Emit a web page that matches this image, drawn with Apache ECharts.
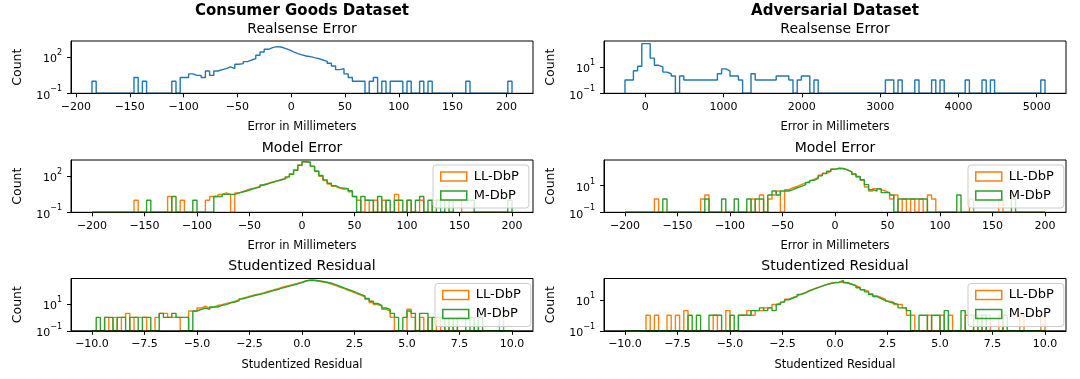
<!DOCTYPE html>
<html><head><meta charset="utf-8">
<script src="https://cdn.jsdelivr.net/npm/echarts@6/dist/echarts.min.js"></script>
<style>html,body{margin:0;padding:0;background:#fff}#chart{width:1080px;height:379px}</style>
</head><body><div id="chart"></div>
<script>
// ---------------- DATA ----------------
const consumerRealsenseBinStart = -185.1, consumerRealsenseBinWidth = 3.903;
const adversarialRealsenseBinStart = -259, adversarialRealsenseBinWidth = 53.65;
const modelErrorBinStart = -200, modelErrorBinWidth = 4;
const residualBinStart = -10, residualBinWidth = 0.2;

const mmTicks = [-200, -150, -100, -50, 0, 50, 100, 150, 200];
const adversarialRealsenseTicks = [0, 1000, 2000, 3000, 4000, 5000];
const residualTicks = [-10, -7.5, -5, -2.5, 0, 2.5, 5, 7.5, 10];

const consumerRealsenseCounts = [
 1,0,0,0,0,0,0,0,0,0, 2,0,1,0,0,0,0,0,0,1,
 0,2,2,4,3,3,2,7,3,7, 9,11,15,11,25,28,41,56,73,140,
 260,430,590,710,670,520,380,260,190,150, 120,107,88,73,56,44,30,18,9,11,
 4,2,1,1,1,0,1,2,0,1, 0,1,1,1,0,1,0,0,1,0,
 1,0,0,0,0,0,0,0,0,1, 0,0,0,0,0,0,0,0,0,1];
const adversarialRealsenseCounts = [
 1,1,5,11,560,560,45,13,10,4, 3,2,0,2,1,1,1,1,1,1,
 1,1,3,7,5,2,2,1,0,0, 3,1,1,1,1,1,2,2,2,1,
 0,1,2,2,0,1,0,0,0,0, 0,0,0,0,0,0,0,0,0,0,
 0,0,1,1,0,1,0,0,0,1, 0,0,0,1,0,1,0,0,0,0,
 0,1,0,0,0,1,0,1,0,0, 0,0,0,0,0,0,0,0,0,1];
const consumerModelLL = [
 0,0,0,0,0,0,0,0,0,0, 1,0,0,0,0,0,0,0,2,0,
 0,1,0,0,0,0,0,1,2,2, 3,4,3,0,4,5,7,9,11,14,
 20,25,32,40,50,62,90,150,320,800, 1450,1300,600,230,95,42,22,14,10,8,
 9,5,2,1,0,1,0,1,0,1, 0,0,3,0,0,1,0,0,1,0,
 0,1,1,1,1,1,1,1,0,0, 0,0,0,0,0,0,0,0,0,0];
const consumerModelM = [
 0,0,0,0,0,0,0,0,0,0, 0,0,0,1,0,0,0,0,0,2,
 0,0,0,0,1,0,0,0,0,2, 2,3,3,3,4,5,6,8,10,12,
 18,23,30,38,47,58,85,140,300,750, 1500,1350,650,260,110,48,25,16,11,10,
 9,6,2,0,2,1,1,0,2,0, 1,0,1,1,0,1,0,1,2,0,
 1,0,1,0,1,0,1,1,1,1, 1,0,0,0,0,0,0,0,0,1];
const adversarialModelLL = [
 0,0,0,0,0,0,0,1,0,0, 0,0,0,0,0,0,0,0,1,2,
 0,0,0,0,0,0,0,0,0,0, 1,0,2,0,1,2,4,0,5,7,
 9,12,16,22,30,40,60,85,120,175, 200,190,150,110,70,45,25,8,4,6,
 5,4,3,1,2,0,1,0,1,0, 1,0,2,1,0,0,0,0,0,0,
 0,0,1,0,0,0,0,0,0,1, 0,0,0,0,0,0,0,0,0,0];
const adversarialModelM = [
 0,0,0,0,0,0,0,0,0,1, 0,0,0,0,0,0,0,0,0,1,
 0,0,0,1,0,0,1,0,0,1, 0,1,1,0,2,4,2,4,4,5,
 7,9,12,17,25,35,55,80,120,170, 205,195,155,110,75,50,28,12,5,4,
 6,3,3,2,0,1,1,1,1,1, 1,1,0,0,0,0,0,0,0,2,
 0,0,0,0,0,0,0,0,0,0, 0,0,1,0,0,0,0,0,0,0];
const consumerResidualLL = [
 0,0,0,1,0,1,0,1,2,0, 1,1,1,0,0,1,2,2,1,1,
 1,0,0,3,3,5,7,5,6,8, 9,11,13,16,20,28,34,42,50,58,
 70,88,105,130,165,200,240,290,350,430, 540,590,570,500,440,380,310,240,180,140,
 105,80,60,45,33,22,13,9,7,4, 3,1,0,0,0,4,1,0,1,0,
 1,0,1,0,1,0,1,0,0,0, 0,1,0,0,0,0,0,1,0,0];
const consumerResidualM = [
 0,1,0,1,1,0,1,1,0,1, 1,0,1,1,0,0,2,1,1,2,
 1,1,1,0,3,4,5,4,6,6, 8,9,12,14,17,24,30,37,45,52,
 62,78,95,115,145,175,215,260,320,400, 520,600,590,540,480,420,350,280,210,160,
 120,95,70,52,40,26,16,11,8,5, 4,2,1,0,1,3,2,0,2,2,
 0,1,1,1,0,1,0,1,1,0, 1,0,1,0,0,0,0,0,0,0];
const adversarialResidualLL = [
 0,0,0,0,0,1,0,1,0,0, 1,0,1,0,2,0,0,0,0,0,
 0,1,0,0,2,0,0,1,1,2, 1,2,2,3,3,5,6,8,11,14,
 18,24,30,40,50,62,78,95,115,125, 130,140,120,100,80,62,45,34,25,18,
 14,11,8,7,5,5,3,1,1,0, 0,0,1,0,0,1,0,1,0,0,
 0,1,1,0,1,0,1,0,0,1, 0,0,0,0,1,0,0,0,0,1];
const adversarialResidualM = [
 0,0,0,0,0,0,0,0,0,0, 0,0,0,0,0,1,0,1,0,0,
 1,1,1,0,0,1,0,1,1,1, 2,2,3,2,3,2,5,7,10,13,
 16,22,28,37,48,60,76,95,112,128, 135,175,125,100,82,60,44,32,22,16,
 12,9,7,6,5,3,3,2,0,0, 1,1,0,1,1,0,2,0,0,0,
 2,0,0,1,0,1,0,0,0,0, 1,0,0,0,0,0,0,0,0,0];

// ---------------- CHART ----------------
const FONT = 'DejaVu Sans';
const BLUE = '#1f77b4', ORANGE = '#ff7f0e', GREEN = '#2ca02c';
const BASE = 0.1;

function stepData(counts, start, width) {
  const pts = [[start, BASE]];
  counts.forEach((c, i) => pts.push([start + i * width, c > 0 ? c : BASE]));
  pts.push([start + counts.length * width, BASE]);
  return pts;
}
const fmtMinus = v => (v < 0 ? '\u2212' + (-v) : String(v));
const fmtRes = v => (v < 0 ? '\u2212' : '') + Math.abs(v).toFixed(1);

const GW = 462, GH = 52.3;
const panels = [
  {left: 71, top: 41, xr: [-204.6, 224.7], xt: mmTicks, xf: fmtMinus, yMax: 2090, yt: [0.1, 100], xName: 'Error in Millimeters',
   series: [{name: 'Realsense', c: consumerRealsenseCounts, s: consumerRealsenseBinStart, w: consumerRealsenseBinWidth, color: BLUE}]},
  {left: 604, top: 41, xr: [-527.25, 5374.25], xt: adversarialRealsenseTicks, xf: fmtMinus, yMax: 890, yt: [0.1, 10], xName: 'Error in Millimeters',
   series: [{name: 'Realsense', c: adversarialRealsenseCounts, s: adversarialRealsenseBinStart, w: adversarialRealsenseBinWidth, color: BLUE}]},
  {left: 71, top: 160, xr: [-220, 220], xt: mmTicks, xf: fmtMinus, yMax: 2090, yt: [0.1, 100], xName: 'Error in Millimeters', legend: [433, 165],
   series: [{name: 'LL-DbP', c: consumerModelLL, s: modelErrorBinStart, w: modelErrorBinWidth, color: ORANGE},
            {name: 'M-DbP', c: consumerModelM, s: modelErrorBinStart, w: modelErrorBinWidth, color: GREEN}]},
  {left: 604, top: 160, xr: [-220, 220], xt: mmTicks, xf: fmtMinus, yMax: 850, yt: [0.1, 10], xName: 'Error in Millimeters', legend: [968, 165],
   series: [{name: 'LL-DbP', c: adversarialModelLL, s: modelErrorBinStart, w: modelErrorBinWidth, color: ORANGE},
            {name: 'M-DbP', c: adversarialModelM, s: modelErrorBinStart, w: modelErrorBinWidth, color: GREEN}]},
  {left: 71, top: 278.5, xr: [-11, 11], xt: residualTicks, xf: fmtRes, yMax: 795, yt: [0.1, 10], xName: 'Studentized Residual', legend: [435, 283.5],
   series: [{name: 'LL-DbP', c: consumerResidualLL, s: residualBinStart, w: residualBinWidth, color: ORANGE},
            {name: 'M-DbP', c: consumerResidualM, s: residualBinStart, w: residualBinWidth, color: GREEN}]},
  {left: 604, top: 278.5, xr: [-11, 11], xt: residualTicks, xf: fmtRes, yMax: 234, yt: [0.1, 10], xName: 'Studentized Residual', legend: [968, 283.5],
   series: [{name: 'LL-DbP', c: adversarialResidualLL, s: residualBinStart, w: residualBinWidth, color: ORANGE},
            {name: 'M-DbP', c: adversarialResidualM, s: residualBinStart, w: residualBinWidth, color: GREEN}]}
];

const yLabel = v => { const e = Math.round(Math.log10(v)); return '{b|10}{e|' + (e < 0 ? '\u2212' + (-e) : e) + '}'; };
const spine = {show: true, onZero: false, lineStyle: {color: '#000', width: 1}};

const grid = [], xAxis = [], yAxis = [], series = [], legend = [];
panels.forEach((p, i) => {
  grid.push({left: p.left, top: p.top, width: GW, height: GH, show: true, borderColor: '#000', borderWidth: 1,
             backgroundColor: 'rgba(0,0,0,0)', z: 3, containLabel: false});
  xAxis.push({type: 'value', gridIndex: i, min: p.xr[0], max: p.xr[1],
    axisLine: spine, splitLine: {show: false},
    axisTick: {show: true, length: 4, inside: false, lineStyle: {color: '#000', width: 1}, customValues: p.xt},
    axisLabel: {customValues: p.xt, formatter: p.xf, fontSize: 11, fontFamily: FONT, color: '#000', margin: 8},
    name: p.xName, nameLocation: 'middle', nameGap: 28,
    nameTextStyle: {fontSize: 11.5, fontFamily: FONT, color: '#000'}});
  yAxis.push({type: 'log', logBase: 10, gridIndex: i, min: BASE, max: p.yMax,
    axisLine: spine, splitLine: {show: false}, minorTick: {show: false},
    axisTick: {show: true, length: 4, lineStyle: {color: '#000', width: 1}, customValues: p.yt},
    axisLabel: {customValues: p.yt, formatter: yLabel, margin: 9, color: '#000',
      rich: {b: {fontSize: 11, fontFamily: FONT, color: '#000', lineHeight: 16, verticalAlign: 'bottom'},
             e: {fontSize: 8, fontFamily: FONT, color: '#000', lineHeight: 9, verticalAlign: 'top'}}},
    name: 'Count', nameLocation: 'middle', nameGap: 47, nameRotate: 90,
    nameTextStyle: {fontSize: 12.5, fontFamily: FONT, color: '#000'}});
  p.series.forEach(s => {
    series.push({type: 'line', name: s.name, xAxisIndex: i, yAxisIndex: i, step: 'end',
      data: stepData(s.c, s.s, s.w), showSymbol: false, symbol: 'none', silent: true, clip: true,
      lineStyle: {color: s.color, width: 1.4}, itemStyle: {color: s.color}, z: 2});
  });
  if (p.legend) {
    legend.push({left: p.legend[0], top: p.legend[1], orient: 'vertical', selectedMode: false,
      data: [{name: 'LL-DbP', icon: 'rect', itemStyle: {color: 'rgba(0,0,0,0)', borderColor: ORANGE, borderWidth: 1.5}},
             {name: 'M-DbP', icon: 'rect', itemStyle: {color: 'rgba(0,0,0,0)', borderColor: GREEN, borderWidth: 1.5}}],
      itemWidth: 26, itemHeight: 9, itemGap: 6, padding: [5, 10, 6, 7],
      backgroundColor: 'rgba(255,255,255,0.8)', borderColor: '#cccccc', borderWidth: 1, borderRadius: 3,
      textStyle: {fontSize: 13, fontFamily: FONT, color: '#000', padding: [0, 0, 0, 2]}, z: 5});
  }
});

const titleText = (text, x, y, size, bold) => ({type: 'text', x: x, y: y, silent: true,
  style: {text: text, align: 'center', verticalAlign: 'middle', fontSize: size, fontWeight: bold ? 'bold' : 'normal',
          fontFamily: FONT, fill: '#000'}});
const graphic = [
  titleText('Consumer Goods Dataset', 302, 11, 15, true),
  titleText('Adversarial Dataset', 835, 11, 15, true),
  titleText('Realsense Error', 302, 29, 14),
  titleText('Realsense Error', 835, 29, 14),
  titleText('Model Error', 302, 148, 14),
  titleText('Model Error', 835, 148, 14),
  titleText('Studentized Residual', 302, 266, 14),
  titleText('Studentized Residual', 835, 266, 14)
];

const chart = echarts.init(document.getElementById('chart'));
chart.setOption({animation: false, backgroundColor: '#fff', grid, xAxis, yAxis, series, legend, graphic});
</script></body></html>
